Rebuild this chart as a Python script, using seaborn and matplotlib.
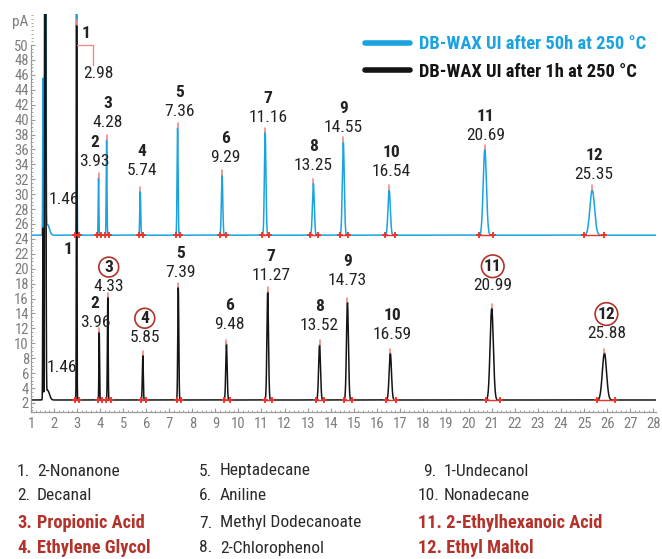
import numpy as np
import pandas as pd
import matplotlib
matplotlib.use("Agg")
import matplotlib.pyplot as plt
import seaborn as sns
from matplotlib import font_manager as fm
from matplotlib.lines import Line2D
from matplotlib.ticker import MultipleLocator

# ---------------- data ----------------
compound_ids = list(range(1, 13))
compound_names = ["2-Nonanone", "Decanal", "Propionic Acid", "Ethylene Glycol",
                  "Heptadecane", "Aniline", "Methyl Dodecanoate", "2-Chlorophenol",
                  "1-Undecanol", "Nonadecane", "2-Ethylhexanoic Acid", "Ethyl Maltol"]
highlighted = [3, 4, 11, 12]

series_names = ["DB-WAX UI after 50h at 250 °C", "DB-WAX UI after 1h at 250 °C"]

baseline_50h = 24.5
baseline_1h = 2.4

# retention times (min) and apex heights above baseline (pA)
rt_50h = [2.98, 3.93, 4.28, 5.74, 7.36, 9.29, 11.16, 13.25, 14.55, 16.54, 20.69, 25.35]
height_50h = [120.0, 7.7, 12.8, 5.9, 14.4, 8.1, 13.8, 7.0, 12.5, 6.1, 11.5, 6.1]
width_50h = [0.012, 0.014, 0.016, 0.02, 0.022, 0.03, 0.034, 0.04, 0.042, 0.05, 0.07, 0.1]

rt_1h = [2.98, 3.96, 4.33, 5.85, 7.39, 9.48, 11.27, 13.52, 14.73, 16.59, 20.99, 25.88]
height_1h = [50.3, 9.1, 13.8, 6.0, 15.1, 7.5, 14.5, 7.4, 13.1, 6.3, 12.3, 6.3]
width_1h = [0.012, 0.014, 0.016, 0.02, 0.022, 0.03, 0.034, 0.04, 0.042, 0.05, 0.07, 0.09]

solvent_label = "1.46"
solvent_rt = [1.52, 1.62, 1.72]
solvent_height_50h = [21.0, 120.0, 1.4]
solvent_height_1h = [23.0, 120.0, 1.3]
solvent_width = [0.012, 0.02, 0.08]

x_ticks = list(range(1, 29))
y_ticks = list(range(2, 51, 2))

# ---------------- style ----------------
sns.set_theme(style="ticks")
names = {f.name for f in fm.fontManager.ttflist}
FONT, STRETCH, SCALE = "Roboto", "normal", 0.92
for cand in ["Liberation Sans Narrow", "Roboto Condensed", "Open Sans Condensed",
             "DejaVu Sans Condensed", "Noto Sans Condensed"]:
    if cand in names:
        FONT, STRETCH, SCALE = cand, "normal", 1.0
        break
plt.rcParams["font.family"] = [FONT, "DejaVu Sans"]
plt.rcParams["font.stretch"] = STRETCH

BLUE = "#1aa3e0"
BLACK = "#141414"
RED = "#b3322a"
GRAY = "#7d7d7d"
TXT = "#222222"
PINK = "#f08a8a"
MARK = "#e8332a"

W, H = 662, 559
fig = plt.figure(figsize=(W / 100, H / 100), dpi=100)
ax_left, ax_right, ax_top, ax_bot = 31, 655.6, 14, 412
ax = fig.add_axes([ax_left / W, 1 - ax_bot / H, (ax_right - ax_left) / W, (ax_bot - ax_top) / H])

XMIN, XMAX = 1.07, 28.1
YMIN, YMAX = 0.79, 54.16
ax.set_xlim(XMIN, XMAX)
ax.set_ylim(YMIN, YMAX)

# ---------------- traces ----------------
t = np.linspace(1.0, 28.1, 27101)


def trace(base, rts, hs, ws):
    y = np.full_like(t, base)
    for r, h, s in zip(rts, hs, ws):
        y += h * np.exp(-0.5 * ((t - r) / s) ** 2)
    return y


y50 = trace(baseline_50h, solvent_rt + rt_50h, solvent_height_50h + height_50h, solvent_width + width_50h)
y1 = trace(baseline_1h, solvent_rt + rt_1h, solvent_height_1h + height_1h, solvent_width + width_1h)
df = pd.concat([
    pd.DataFrame({"time": t, "signal": y50, "column": series_names[0]}),
    pd.DataFrame({"time": t, "signal": y1, "column": series_names[1]}),
])
sns.lineplot(data=df, x="time", y="signal", hue="column", hue_order=series_names,
             palette={series_names[0]: BLUE, series_names[1]: BLACK},
             estimator=None, sort=False, lw=1.1, legend=False, ax=ax)

# integration marks
for base, rts, hs, ws in [(baseline_50h, rt_50h, height_50h, width_50h),
                          (baseline_1h, rt_1h, height_1h, width_1h)]:
    for i, (r, h, s) in enumerate(zip(rts, hs, ws)):
        s0, s1 = r - max(3.5 * s, 0.07), r + max(5 * s, 0.12)
        ax.plot([s0, s1], [base, base], color=MARK, lw=1.0, zorder=3)
        ax.plot([s0, s1], [base, base], ls="none", marker="+", ms=5, mew=1.3, color=MARK, zorder=4)
        apex = base + h
        if apex < YMAX:
            ax.plot([r, r], [apex, apex + 0.6], color=PINK, lw=1.2, zorder=4)

# ---------------- axes styling ----------------
ax.set_xticks(x_ticks)
ax.set_yticks(y_ticks)
ax.xaxis.set_minor_locator(MultipleLocator(0.2))
ax.yaxis.set_minor_locator(MultipleLocator(0.5))
ax.tick_params(axis="both", which="major", direction="in", length=3, width=0.8, color="#9a9a9a",
               labelcolor=GRAY, labelsize=10.5 * SCALE)
ax.tick_params(axis="both", which="minor", direction="in", length=1.5, width=0.6, color="#9a9a9a")
ax.tick_params(axis="y", pad=1.5)
ax.tick_params(axis="x", pad=3.5)
ax.set_xlabel("")
ax.set_ylabel("")
sns.despine(ax=ax)
for sp in ["left", "bottom"]:
    ax.spines[sp].set_color("#9a9a9a")
    ax.spines[sp].set_linewidth(0.9)
ax.spines["left"].set_bounds(YMIN, 50)
ax.text(-0.018, 53.1, "pA", transform=ax.get_yaxis_transform(), color=GRAY,
        fontsize=11 * SCALE, ha="center", va="center", clip_on=False)
ax.set_facecolor("none")
ax.grid(False)

FS = 12.5 * SCALE
FSB = FS * 1.06

# ---------------- peak labels ----------------
dy_50h = [None, 16, 17, 21, 16, 17, 15, 17, 14, 18, 14, 15]
dy_1h = [None, 10, 11, 18, 15, 20, 16, 19, 22, 19, 23, 20]
dx_pk = [0, -4, 1, 2, 2, 3, 3, 0, 0, 2, 1, 2]
GAP = 19

for base, rts, hs, dys, circled in [(baseline_50h, rt_50h, height_50h, dy_50h, False),
                                    (baseline_1h, rt_1h, height_1h, dy_1h, True)]:
    for i in range(1, 12):
        apex = base + hs[i]
        ax.annotate(f"{rts[i]:.2f}", (rts[i], apex), xytext=(dx_pk[i], dys[i]),
                    textcoords="offset pixels", ha="center", va="center",
                    fontsize=FS, color=TXT)
        kw = {}
        if circled and compound_ids[i] in highlighted:
            kw["bbox"] = dict(boxstyle="circle,pad=0.14", fc="none", ec=RED, lw=1.2)
        ax.annotate(str(compound_ids[i]), (rts[i], apex), xytext=(dx_pk[i], dys[i] + GAP),
                    textcoords="offset pixels", ha="center", va="center",
                    fontsize=FS, fontweight="bold", color=TXT, **kw)

# peak 1 (blue, off-scale) with bracket
p0 = ax.transData.transform((rt_50h[0], 50))
pts = p0 + np.array([[0, 0], [16, 0], [16, -20]])
dpts = ax.transData.inverted().transform(pts)
ax.plot(dpts[:, 0], dpts[:, 1], color=PINK, lw=1.0, zorder=4)
ax.annotate(str(compound_ids[0]), (rt_50h[0], 50), xytext=(9, 12), textcoords="offset pixels",
            ha="center", va="center", fontsize=FS, fontweight="bold", color=TXT)
ax.annotate(f"{rt_50h[0]:.2f}", (rt_50h[0], 50), xytext=(22, -28), textcoords="offset pixels",
            ha="center", va="center", fontsize=FS, color=TXT)
# peak 1 (black)
ax.annotate(str(compound_ids[0]), (rt_1h[0], baseline_1h), xytext=(-9, 150), textcoords="offset pixels",
            ha="center", va="center", fontsize=FS, fontweight="bold", color=TXT)
# solvent labels
ax.annotate(solvent_label, (1.46, baseline_50h), xytext=(22, 36), textcoords="offset pixels",
            ha="center", va="center", fontsize=FS, color=TXT)
ax.annotate(solvent_label, (1.46, baseline_1h), xytext=(20, 32), textcoords="offset pixels",
            ha="center", va="center", fontsize=FS, color=TXT)

# ---------------- legend ----------------
handles = [Line2D([], [], color=BLUE, lw=4), Line2D([], [], color=BLACK, lw=4)]
LFS = 13.3 * SCALE
leg = fig.legend(handles, series_names, loc="upper left", bbox_to_anchor=(365 / W, 1 - 35 / H),
                 frameon=False, borderpad=0, borderaxespad=0, handlelength=2.45,
                 handletextpad=0.5, labelspacing=0.52, prop={"size": LFS, "weight": "bold"})
for txt, c in zip(leg.get_texts(), [BLUE, BLACK]):
    txt.set_color(c)

# ---------------- compound list ----------------
row_y = [471, 496, 523, 548]
col_num_x = [17, 199, 418]
col_name_x = [37, 220, 444]
for k, (cid, name) in enumerate(zip(compound_ids, compound_names)):
    col, row = k // 4, k % 4
    hl = cid in highlighted
    color = RED if hl else "#2a2a2a"
    weight = "bold" if hl else "normal"
    size = FSB if hl else FS
    y = 1 - row_y[row] / H
    if col == 2 and hl:
        fig.text(col_num_x[col] / W, y, f"{cid}. {name}", fontsize=size, color=color,
                 fontweight=weight, va="center", ha="left")
        continue
    nx = col_num_x[col] + (5 if (col == 2 and cid < 10) else 0)
    fig.text(nx / W, y, f"{cid}.", fontsize=size, color=color, fontweight=weight, va="center", ha="left")
    fig.text(col_name_x[col] / W, y, name, fontsize=size, color=color, fontweight=weight,
             va="center", ha="left")

fig.savefig("out.png", dpi=100)
